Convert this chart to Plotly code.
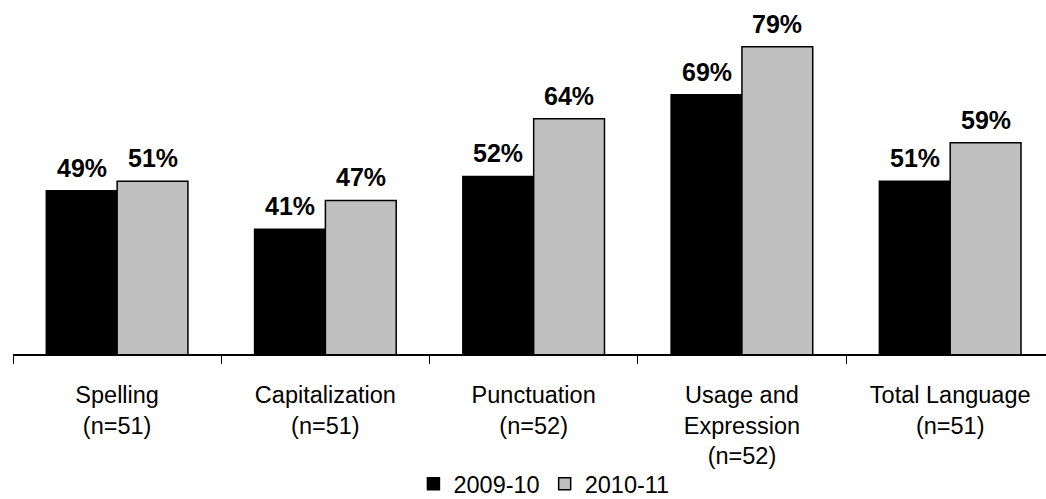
import plotly.graph_objects as go

categories = ["Spelling<br>(n=51)", "Capitalization<br>(n=51)", "Punctuation<br>(n=52)",
              "Usage and<br>Expression<br>(n=52)", "Total Language<br>(n=51)"]
series_names = ["2009-10", "2010-11"]
values_2009 = [49, 41, 52, 69, 51]
values_2010 = [51, 47, 64, 79, 59]
colors = ["#000000", "#c0c0c0"]

FONT = "Liberation Sans, Arial, sans-serif"
BARGAP = 0.32
half_bar = (1 - BARGAP) / 4  # centre offset of each bar inside its group

fig = go.Figure()
for name, vals, col in zip(series_names, [values_2009, values_2010], colors):
    fig.add_trace(go.Bar(
        x=categories, y=vals, name=name,
        marker=dict(color=col, line=dict(color="#000000", width=1.5)),
    ))

# bold value labels above each bar
for sign, vals in zip([-1, 1], [values_2009, values_2010]):
    for i, v in enumerate(vals):
        fig.add_annotation(
            x=i + sign * half_bar, y=v, xref="x", yref="y",
            text=f"<b>{v}%</b>", showarrow=False, yanchor="bottom", yshift=7,
            font=dict(family=FONT, size=25, color="#000000"),
        )

fig.update_layout(
    width=1046, height=499, barmode="group", bargap=BARGAP, bargroupgap=0,
    plot_bgcolor="white", paper_bgcolor="white",
    margin=dict(l=13, r=0, t=18, b=145, autoexpand=False),
    font=dict(family=FONT, size=23.5, color="#000000"),
    xaxis=dict(range=[-0.5, 4.46], showline=True, linecolor="#000000", linewidth=1.5,
               ticks="outside", tickson="boundaries", ticklen=8, tickcolor="#000000",
               tickwidth=1, tickfont=dict(size=23.5), ticklabelstandoff=19,
               showgrid=False, automargin=False),
    yaxis=dict(range=[15, 85], visible=False, showgrid=False, automargin=False),
    legend=dict(orientation="h", x=0.52, xanchor="center", xref="container",
                y=0.03, yanchor="middle", yref="container",
                font=dict(size=23.5), itemwidth=30, traceorder="normal",
                bgcolor="rgba(0,0,0,0)"),
    showlegend=True,
)

fig.write_html("out.html")
